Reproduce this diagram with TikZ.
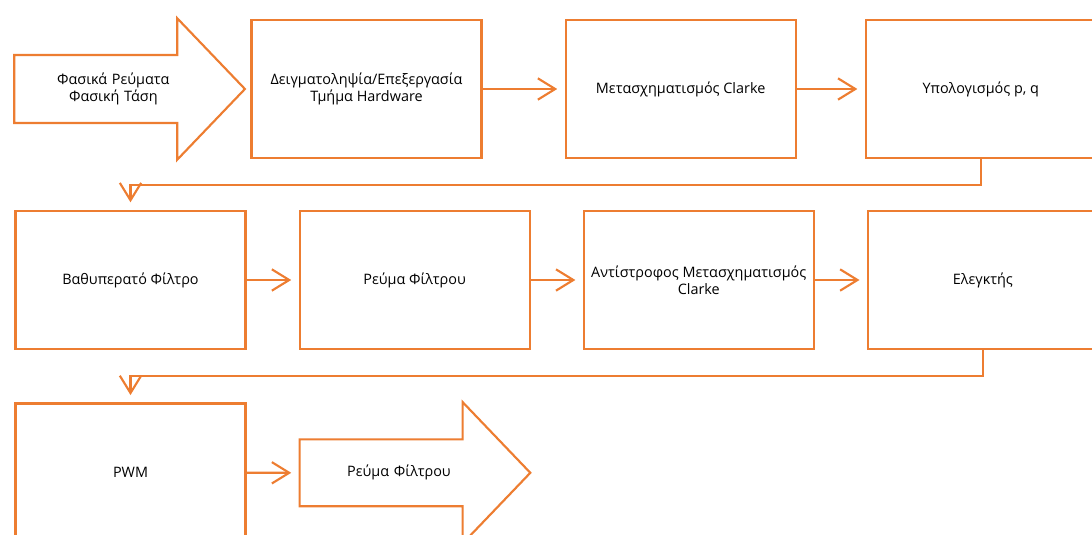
\documentclass[tikz,border=0pt]{standalone}
\usepackage{fontspec}
\setmainfont{Open Sans}
\usetikzlibrary{arrows.meta,positioning,shapes.arrows}
\definecolor{boxorange}{HTML}{ED7D31}

\begin{document}
\begin{tikzpicture}[
    x=0.75pt, y=-0.75pt,
    font=\fontsize{10.8}{12.75}\selectfont,
    node distance=39pt,
    box/.style={draw=boxorange, line width=1.6pt, fill=white, align=center, minimum width=172.5pt, minimum height=104pt, inner sep=2pt},
    bigarrow/.style={single arrow, draw=boxorange, line width=1.6pt, fill=white, align=center, text width=92pt, minimum height=173pt, minimum width=106pt, single arrow head extend=27.5pt, single arrow tip angle=92.5, single arrow head indent=0pt},
    arrow/.style={-{Straight Barb[length=13pt,width=16pt]}, boxorange, line width=1.6pt, shorten >=5.5pt}
]
\useasboundingbox (0,0) rectangle (1092,535);
\clip (0,0) rectangle (1092,535);

% first row
\node[box] (a) at (366.5,89) {Δειγματοληψία/Επεξεργασία\\Τμήμα Hardware};
\node[bigarrow, inner ysep=12.6pt, left=3pt of a] (in1) {Φασικά Ρεύματα\\Φασική Τάση};
\node[box, right=61.5pt of a] (b) {Μετασχηματισμός Clarke};
\node[box, right=51pt of b] (c) {Υπολογισμός p, q};

% second row
\node[box] (d) at (130.5,280) {Βαθυπερατό Φίλτρο};
\node[box, right=of d] (e) {Ρεύμα Φίλτρου};
\node[box, right=of e] (f) {Αντίστροφος Μετασχηματισμός\\Clarke};
\node[box, right=of f] (g) {Ελεγκτής};

% third row
\node[box, below=of d] (h) {PWM};
\node[bigarrow, inner ysep=18.3pt, right=of h] (out1) {Ρεύμα Φίλτρου};

\draw[arrow] (a) -- (b);
\draw[arrow] (b) -- (c);
\draw[arrow] (c.south) -- ++(0,26) -| (d.north);
\draw[arrow] (d) -- (e);
\draw[arrow] (e) -- (f);
\draw[arrow] (f) -- (g);
\draw[arrow] (g.south) -- ++(0,26) -| (h.north);
\draw[arrow] (h) -- (out1);
\end{tikzpicture}
\end{document}
